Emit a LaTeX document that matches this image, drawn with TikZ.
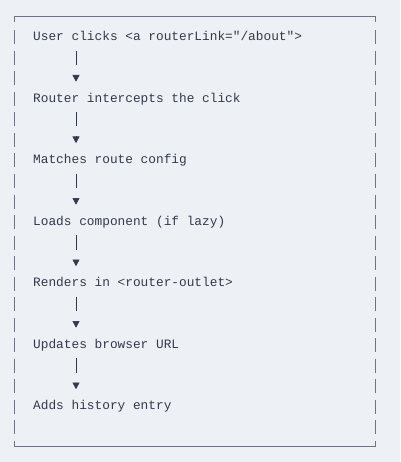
\documentclass[tikz,border=0pt]{standalone}
\usepackage{fontspec}
\setmonofont{Liberation Mono}
\usetikzlibrary{arrows.meta}
\definecolor{bgcol}{HTML}{EDF1F6}
\definecolor{textcol}{HTML}{333A47}
\definecolor{framecol}{HTML}{6E7581}
\tikzset{>/.tip={Triangle[width=7pt,length=6.7pt]},
  stepnode/.style={anchor=base west, inner sep=0pt, text=textcol, font=\ttfamily\fontsize{12.8}{15}\selectfont},
  bar/.style={draw=textcol, line width=0.7pt, shorten >=16.7pt},
  tip/.style={->, draw=textcol, line width=0.7pt, shorten <=24.3pt}}

\begin{document}
\begin{tikzpicture}[x=1pt,y=1pt]
\fill[bgcol] (0,0) rectangle (400,-462);
\useasboundingbox (0,0) rectangle (400,-462);

% frame
\draw[framecol, line width=1pt] (14,-22) -- (14,-16.7) -- (375,-16.7) -- (375,-22);
\draw[framecol, line width=1pt] (14,-441) -- (14,-446.7) -- (375,-446.7) -- (375,-441);
\draw[framecol, line width=1pt, dash pattern=on 14pt off 6.5pt] (14,-30.5) -- (14,-434);
\draw[framecol, line width=1pt, dash pattern=on 14pt off 6.5pt] (375,-30.5) -- (375,-434);

\node[stepnode] (1) at (33,-40.7)  {User clicks <a routerLink="/about">};
\node[stepnode] (2) at (33,-102.2) {Router intercepts the click};
\node[stepnode] (3) at (33,-163.7) {Matches route config};
\node[stepnode] (4) at (33,-225.2) {Loads component (if lazy)};
\node[stepnode] (5) at (33,-286.7) {Renders in <router-outlet>};
\node[stepnode] (6) at (33,-348.2) {Updates browser URL};
\node[stepnode] (7) at (33,-409.7) {Adds history entry};

\path ([xshift=43pt,yshift=-10pt]1.base west) edge[bar] ([xshift=43pt,yshift=20.5pt]2.base west)
  edge[tip] ([xshift=43pt,yshift=20.5pt]2.base west);
\path ([xshift=43pt,yshift=-10pt]2.base west) edge[bar] ([xshift=43pt,yshift=20.5pt]3.base west)
  edge[tip] ([xshift=43pt,yshift=20.5pt]3.base west);
\path ([xshift=43pt,yshift=-10pt]3.base west) edge[bar] ([xshift=43pt,yshift=20.5pt]4.base west)
  edge[tip] ([xshift=43pt,yshift=20.5pt]4.base west);
\path ([xshift=43pt,yshift=-10pt]4.base west) edge[bar] ([xshift=43pt,yshift=20.5pt]5.base west)
  edge[tip] ([xshift=43pt,yshift=20.5pt]5.base west);
\path ([xshift=43pt,yshift=-10pt]5.base west) edge[bar] ([xshift=43pt,yshift=20.5pt]6.base west)
  edge[tip] ([xshift=43pt,yshift=20.5pt]6.base west);
\path ([xshift=43pt,yshift=-10pt]6.base west) edge[bar] ([xshift=43pt,yshift=20.5pt]7.base west)
  edge[tip] ([xshift=43pt,yshift=20.5pt]7.base west);
\end{tikzpicture}
\end{document}
